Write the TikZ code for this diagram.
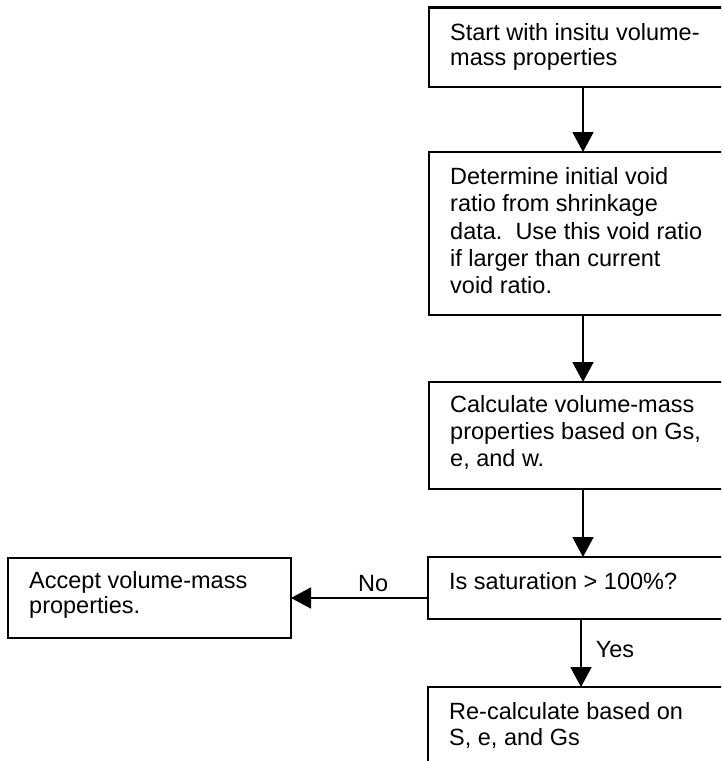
\documentclass[tikz,border=0pt]{standalone}
\usepackage{fontspec}
\setmainfont{Liberation Sans}
\usetikzlibrary{arrows.meta}
\begin{document}
\begin{tikzpicture}[x=1pt,y=-1pt,
  box/.style={draw, line width=2.4pt, rectangle, inner sep=0pt, outer sep=0pt, anchor=north west},
  txt/.style={anchor=north west, inner sep=0pt, align=left, font=\fontsize{23.5}{#1}\selectfont},
  txt/.default=27,
  arr/.style={line width=1.7pt, -{Triangle[width=21pt,length=20pt]}},
  lbl/.style={inner sep=0pt, font=\fontsize{23.5}{27}\selectfont}]
\useasboundingbox (0,0) rectangle (721,761);
\clip (0,0) rectangle (721,761);
% boxes
\node[box, minimum width=308pt, minimum height=79.5pt] (b1) at (429,7.5) {};
\node[box, minimum width=308pt, minimum height=163pt] (b2) at (429,152) {};
\node[box, minimum width=308pt, minimum height=107pt] (b3) at (429,382) {};
\node[box, minimum width=306pt, minimum height=62pt] (b4) at (428,557) {};
\node[box, minimum width=283pt, minimum height=80pt] (b5) at (8,558) {};
\node[box, minimum width=306pt, minimum height=110pt] (b6) at (428,687) {};
% texts
\node[txt=25] (t1) at ([xshift=21pt,yshift=-14pt]b1.north west)
  {\rule{0pt}{19pt}Start with insitu volume-\\mass properties};
\node[txt=27.4] (t2) at ([xshift=21pt,yshift=-13pt]b2.north west)
  {\rule{0pt}{19pt}Determine initial void\\ratio from shrinkage\\data.\ \ Use this void ratio\\if larger than current\\void ratio.};
\node[txt=27] (t3) at ([xshift=21pt,yshift=-11pt]b3.north west)
  {\rule{0pt}{19pt}Calculate volume-mass\\properties based on Gs,\\e, and w.};
\node[txt] (t4) at ([xshift=21pt,yshift=-13pt]b4.north west)
  {\rule{0pt}{19pt}Is saturation > 100\%?};
\node[txt=25.7] (t5) at ([xshift=21pt,yshift=-11pt]b5.north west)
  {\rule{0pt}{19pt}Accept volume-mass\\properties.};
\node[txt=26] (t6) at ([xshift=21pt,yshift=-13pt]b6.north west)
  {\rule{0pt}{19pt}Re-calculate based on\\S, e, and Gs};
% connectors
\draw[arr] (b1.south) -- (b2.north);
\draw[arr] (b2.south) -- (b3.north);
\draw[arr] (b3.south) -- (b3.south |- b4.north);
\draw[arr] (b5.east -| b4.west) -- node[lbl, pos=0.4, anchor=base, yshift=6.3pt] (no) {No} (b5.east);
\draw[arr] (b4.south) -- node[lbl, pos=0.563, anchor=base west, xshift=14pt] (yes) {Yes} (b6.north);
\end{tikzpicture}
\end{document}
